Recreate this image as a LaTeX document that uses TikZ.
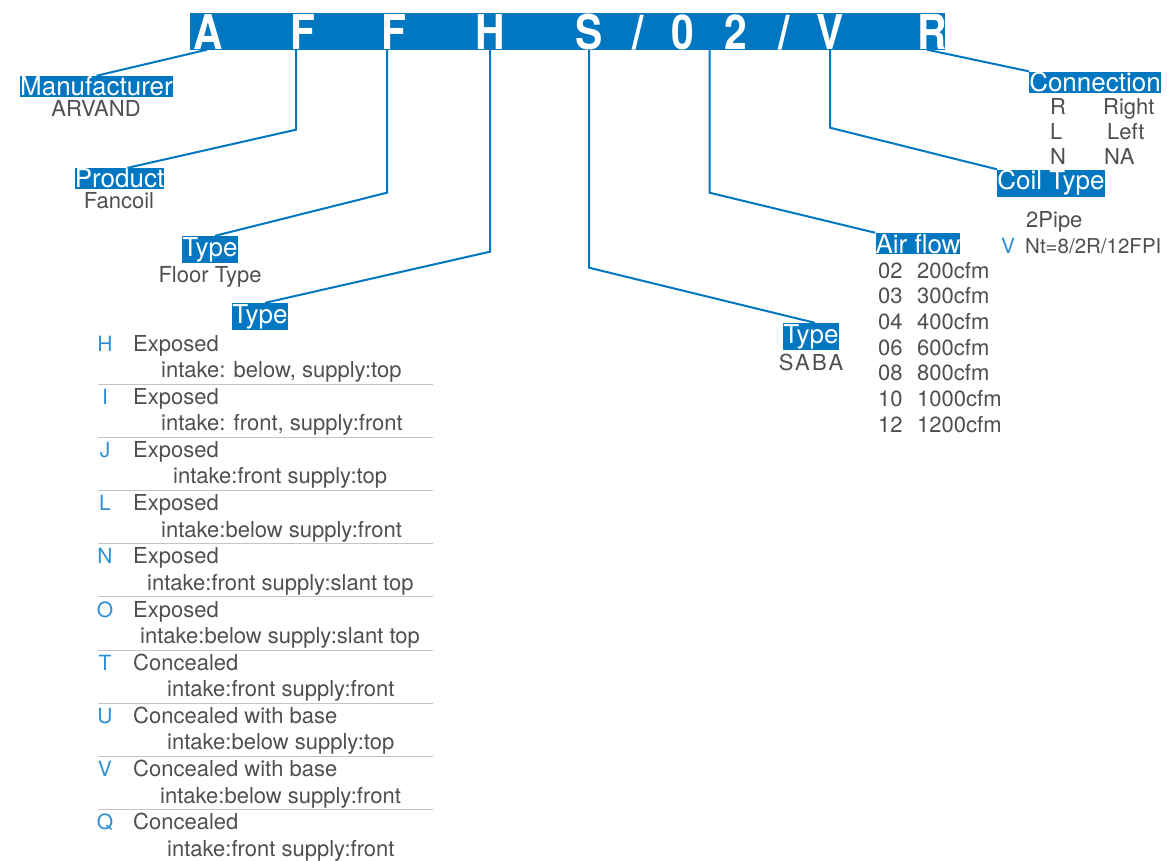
\documentclass[tikz,border=0pt]{standalone}
\usepackage{fontspec}
\setmainfont{TeX Gyre Heros}
\newfontfamily\codefont{TeX Gyre Heros}[FakeStretch=0.85]
\usetikzlibrary{calc}

\definecolor{arvblue}{HTML}{0077C0}
\definecolor{keyblue}{HTML}{2F8FD5}
\definecolor{txtgray}{HTML}{4F4F4F}
\definecolor{rulegray}{HTML}{C4C4C4}

\tikzset{
  tag/.style={fill=arvblue,text=white,inner xsep=0pt,inner ysep=1pt,anchor=base,
    font=\fontsize{26}{30}\selectfont},
  sub/.style={text=txtgray,inner sep=0pt,font=\fontsize{22}{26}\selectfont},
  key/.style={text=keyblue,inner sep=0pt,anchor=base,font=\fontsize{21}{25}\selectfont},
  code/.style={text=white,inner sep=0pt,text depth=0pt,anchor=base,
    font=\codefont\bfseries\fontsize{48}{50}\selectfont},
  link/.style={arvblue,line width=2pt},
  sep/.style={rulegray,line width=1pt}
}

\begin{document}
\begin{tikzpicture}[x=1pt,y=-1pt]
\useasboundingbox (0,0) rectangle (1167,861);

% model code bar
\fill[arvblue] (190,13) rectangle (945,50);
\foreach \px/\ch/\nm in {208/A/cA,303/F/cF,394/F/cFb,490/H/cH,589/S/cS,638/{/}/cSl,
    683/0/cZ,736/2/cT,784/{/}/cSlb,830/V/cV,932/R/cR}
  \node[code] (\nm) at (\px,49.5) {\ch};

% labels
\node[tag] (manu) at (96.5,96) {Manufacturer};
\node[sub,anchor=base] (manuv) at (96,117) {ARVAND};

\node[tag] (prod) at (119.5,188) {Product};
\node[sub,anchor=base] (prodv) at (119,209) {Fancoil};

\node[tag] (typeA) at (210,256) {Type};
\node[sub,anchor=base] (typeAv) at (210,282) {Floor Type};

\node[tag] (typeB) at (260,323) {Type};

\node[tag] (typeC) at (811,343) {Type};
\node[sub,anchor=base] (typeCv) at (811,370) {\addfontfeature{LetterSpace=10}SABA};

\node[tag] (air) at (918,253) {Air flow};
\node[tag] (coil) at (1051,190) {Coil Type};
\node[tag] (conn) at (1095,92) {Connection};

% connectors
\draw[link] ([xshift=-1]cA.south) -- (manu.north);
\draw[link] ([xshift=-7]cF.south) -- ++(0,80) -- ([xshift=8]prod.north);
\draw[link] ([xshift=-7]cFb.south) -- ++(0,143) -- ([xshift=5]typeA.north);
\draw[link] (cH.south) -- ++(0,202) -- ([xshift=5]typeB.north);
\draw[link] (cS.south) -- ++(0,218) -- ([xshift=4]typeC.north);
\draw[link] ($(cZ.south)!.5!(cT.south)$) -- ++(0,143) -- (air.north west);
\draw[link] (cV.south) -- ++(0,78) -- (coil.north west);
\draw[link] ([xshift=-5]cR.south) -- (conn.north west);

% connection side
\foreach \k/\v/\vx [count=\i from 0] in {R/Right/1103,L/Left/1107,N/NA/1104}{
  \pgfmathsetmacro\yb{115+25*\i}
  \node[sub,anchor=base west] (cn\k) at (1050,\yb) {\k};
  \node[sub,anchor=base west] (cnv\k) at (\vx,\yb) {\v};
}

% coil type
\node[sub,anchor=base west] (pipe) at (1026,227) {2Pipe};
\node[key,anchor=base west] (coilV) at (1001,253) {V};
\node[sub,anchor=base west,font=\fontsize{20.5}{25}\selectfont] (coilv) at (1025,253) {Nt=8/2R/12FPI};

% air flow
\foreach \c/\v [count=\i from 0] in {02/200,03/300,04/400,06/600,08/800,10/1000,12/1200}{
  \pgfmathsetmacro\yb{278+25.7*\i}
  \node[sub,anchor=base west] (af\c) at (878,\yb) {\c};
  \node[sub,anchor=base west] (afv\c) at (917,\yb) {\v cfm};
}

% unit types
\foreach \k/\a/\b/\ind [count=\i from 0] in {
    H/Exposed/{intake: below, supply:top}/161,
    I/Exposed/{intake: front, supply:front}/161,
    J/Exposed/intake:front supply:top/173,
    L/Exposed/intake:below supply:front/161,
    N/Exposed/intake:front supply:slant top/147,
    O/Exposed/intake:below supply:slant top/140,
    T/Concealed/intake:front supply:front/167,
    U/Concealed with base/intake:below supply:top/167,
    V/Concealed with base/intake:below supply:front/160,
    Q/Concealed/intake:front supply:front/167}{
  \pgfmathsetmacro\yb{351+53.2*\i}
  \node[key] (k\k) at (105,\yb) {\k};
  \node[sub,anchor=base west] (m\k) at (133,\yb) {\a};
  \node[sub,anchor=base west] (d\k) at (\ind,\yb+26.5) {\b};
  \ifnum\i<9 \draw[sep] (98,\yb+33) -- (433,\yb+33); \fi
}

\end{tikzpicture}
\end{document}
